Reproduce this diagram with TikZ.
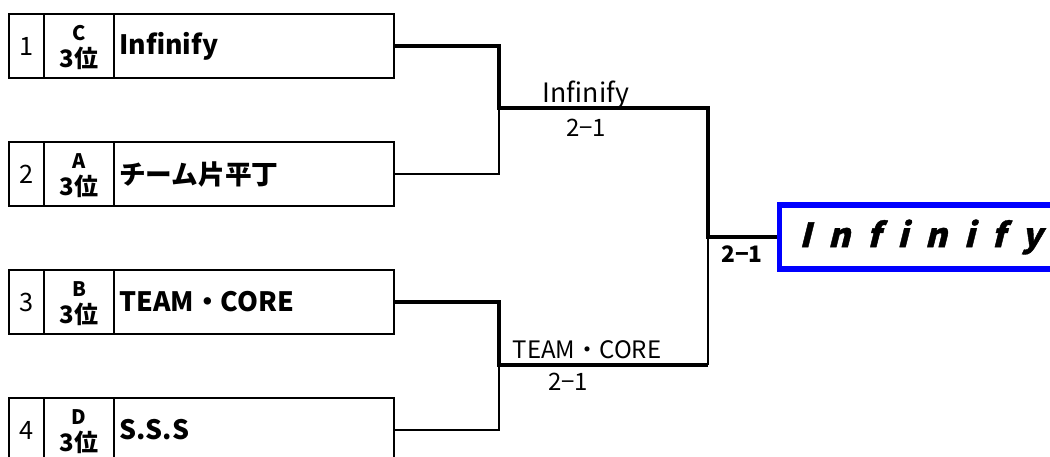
\documentclass[tikz,border=0pt]{standalone}
\usepackage{fontspec}
\setmainfont{Noto Sans CJK JP}
\newfontfamily\paltfont{Noto Sans CJK JP}[RawFeature=+palt]
\newfontfamily\finalfont{Noto Sans CJK JP}[FakeSlant=0.25,FakeBold=1.2,LetterSpace=51,Ligatures={NoCommon}]
\begin{document}
\begin{tikzpicture}[x=0.75pt,y=-0.75pt,
  teambox/.style={draw=black,line width=2pt,minimum width=385*0.75pt,minimum height=64*0.75pt,inner sep=0pt},
  divline/.style={line width=2pt},
  numtxt/.style={font=\fontsize{19}{21}\selectfont,inner sep=0pt},
  seedtop/.style={font=\bfseries\fontsize{15}{16}\selectfont,inner sep=0pt},
  seedbot/.style={font=\bfseries\fontsize{18}{19}\selectfont,inner sep=0pt},
  nametxt/.style={font=\bfseries\fontsize{20}{22}\selectfont,anchor=west,inner sep=0pt},
  win/.style={line width=3.2pt},
  lose/.style={line width=1.6pt},
  lbl/.style={font=\paltfont\fontsize{18}{20}\selectfont,inner sep=0pt},
  finalbox/.style={draw=blue,line width=3.8pt,minimum width=283*0.75pt,minimum height=64*0.75pt,inner sep=0pt}
]
\useasboundingbox (0,0) rectangle (1050,457);
% team boxes
\foreach \i/\y/\s/\nm in {1/46/C/Infinify,2/174/A/チーム片平丁,3/302/B/TEAM・CORE,4/430/D/S.S.S}{
  \node[teambox] (team\i) at (201.5,\y) {};
  \draw[divline] (44,\y-32) -- (44,\y+32);
  \draw[divline] (114,\y-32) -- (114,\y+32);
  \node[numtxt] (num\i) at (27,\y) {\i};
  \node[seedtop] (seedA\i) at (79,\y-13) {\s};
  \node[seedbot] (seedB\i) at (79,\y+12) {3位};
  \node[nametxt] (name\i) at (119,\y) {\nm};
}
% junctions
\coordinate (j1a) at (499,46);
\coordinate (j1) at (499,108);
\coordinate (j1b) at (499,174);
\coordinate (j2a) at (499,302);
\coordinate (j2) at (499,365);
\coordinate (j2b) at (499,430);
\coordinate (k1) at (708,108);
\coordinate (k) at (708,237);
\coordinate (k2) at (708,365);
% final box
\node[finalbox,anchor=west] (final) at (777,237) {};
\node[font=\finalfont\bfseries\fontsize{25}{27}\selectfont,anchor=west,inner sep=0pt] (finaltxt) at (799,237) {Infinify};
% connectors
\draw[win] (team1.east) -- (j1a) -- (j1) -- (k1) -- (k) -- (final.west);
\draw[lose] (j1) -- (j1b) -- (team2.east);
\draw[win] (team3.east) -- (j2a) -- (j2) -- (k2);
\draw[lose] (j2) -- (j2b) -- (team4.east);
\draw[lose] (k2) -- (k);
% labels
\node[lbl,font=\paltfont\fontsize{20}{22}\selectfont] (l1) at (586,95) {Infinify};
\node[lbl] (s1) at (586,128) {2−1};
\node[lbl,font=\fontsize{18}{20}\selectfont] (l2) at (587,350) {TEAM・CORE};
\node[lbl] (s2) at (568,382) {2−1};
\node[lbl,font=\bfseries\fontsize{17}{19}\selectfont] (s3) at (742,254) {2−1};
\end{tikzpicture}
\end{document}
